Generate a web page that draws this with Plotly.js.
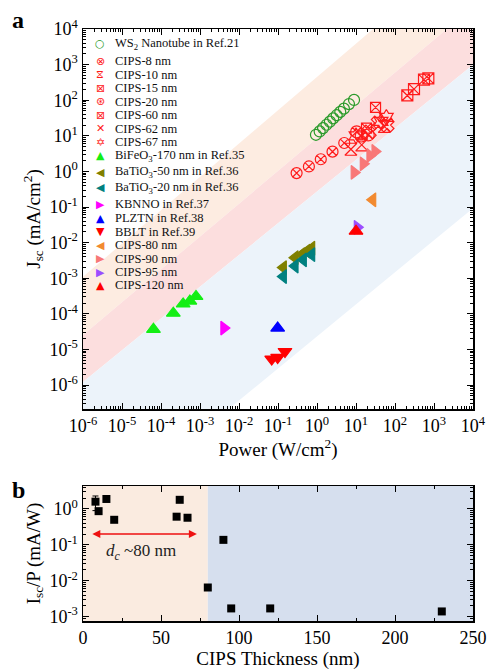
<!DOCTYPE html>
<html>
<head>
<meta charset="utf-8">
<script src="https://cdn.plot.ly/plotly-3.0.1.min.js"></script>
<style>html,body{margin:0;padding:0;background:#fff;}#chart{width:489px;height:671px;}</style>
</head>
<body>
<div id="chart"></div>
<script>
// ---------- Panel a data: power (W/cm^2) vs Jsc (mA/cm^2) ----------
const ws2Power   = [0.94, 1.17, 1.43, 1.75, 2.14, 2.6, 3.2, 3.95, 4.9, 6.6, 8.9];
const ws2Jsc     = [10.7, 13.3, 16.5, 20.5, 25, 31, 38, 47, 58, 78, 102];
const cips8Power = [0.30, 0.62, 1.25, 2.5, 5.0];
const cips8Jsc   = [0.90, 1.38, 2.2, 3.6, 6.3];
const cips10Power = [7.4, 14, 53];
const cips10Jsc   = [4.2, 5.6, 18.4];
const cips15Power = [207, 307, 554, 715];
const cips15Jsc   = [136, 206, 377, 410];
const cips20Power = [10.4, 13.6, 20.6];
const cips20Jsc   = [13, 9.9, 10.6];
const cips60Power = [31.7, 18.6];
const cips60Jsc   = [63, 16.5];
const cips62Power = [37, 63, 22];
const cips62Jsc   = [23, 20, 13];
const cips67Power = [44, 60, 10];
const cips67Jsc   = [25.5, 33, 10];
const bfoPower = [6.4e-5, 2.07e-4, 3.7e-4, 5.5e-4, 7.9e-4];
const bfoJsc   = [3.7e-5, 1.05e-4, 1.9e-4, 2.3e-4, 3.1e-4];
const bto50Power = [0.137, 0.273, 0.40, 0.55, 0.73];
const bto50Jsc   = [2.0e-3, 3.8e-3, 4.6e-3, 5.8e-3, 7.0e-3];
const bto20Power = [0.137, 0.273, 0.446, 0.73];
const bto20Jsc   = [1.12e-3, 2.2e-3, 3.3e-3, 4.6e-3];
const kbnnoPower = [4.1e-3];
const kbnnoJsc   = [4.0e-5];
const plztnPower = [0.098];
const plztnJsc   = [4.0e-5];
const bbltPower = [0.069, 0.098, 0.151];
const bbltJsc   = [5.4e-6, 6.0e-6, 8.8e-6];
const cips80Power = [26.8];
const cips80Jsc   = [0.16];
const cips90Power = [9.0, 15.4, 22.8, 30.7];
const cips90Jsc   = [0.94, 1.64, 2.8, 3.65];
const cips95Power = [10.8];
const cips95Jsc   = [0.027];
const cips120Power = [10];
const cips120Jsc   = [0.021];

// band boundary lines (log10 P, log10 J endpoints)
const bandLogP = [-7, 5];
const orangeTop = [-3.895, 7.33];
const pinkTop   = [-5.51, 5.54];
const blueTop   = [-6.80, 3.89];
const blueBot   = [-10.93, -0.13];

// ---------- Panel b data ----------
const thickness = [8, 10, 15, 20, 60, 62, 67, 80, 90, 95, 120, 230];
const iscOverP  = [1.6, 0.87, 1.9, 0.5, 0.61, 1.8, 0.57, 0.0065, 0.138, 0.0017, 0.0017, 0.0014];
const errPlus   = [0.7, 0, 0, 0, 0, 0, 0, 0, 0, 0, 0, 0];
const errMinus  = [0.7, 0, 0, 0, 0, 0, 0, 0, 0, 0, 0, 0];

const decTicks = [-6,-5,-4,-3,-2,-1,0,1,2,3,4];
const FONT = 'Liberation Serif, Times New Roman, serif';

function pw(v){ return Math.pow(10, v); }
function band(top, bot, color){
  return {
    x: [pw(bandLogP[0]), pw(bandLogP[1]), pw(bandLogP[1]), pw(bandLogP[0])],
    y: [pw(top[0]), pw(top[1]), pw(bot[1]), pw(bot[0])],
    mode: 'lines', fill: 'toself', fillcolor: color, line: {width: 0, color: color},
    hoverinfo: 'skip', showlegend: false, xaxis: 'x', yaxis: 'y'
  };
}

const series = [
  {name: 'WS<sub>2</sub> Nanotube in Ref.21', x: ws2Power, y: ws2Jsc, symbol: 'circle-open', color: '#2a9a2a', size: 11, glyph: '○'},
  {name: 'CIPS-8 nm', x: cips8Power, y: cips8Jsc, symbol: 'circle-x-open', color: '#ff1a1a', size: 11, glyph: '⊗'},
  {name: 'CIPS-10 nm', x: cips10Power, y: cips10Jsc, symbol: 'hourglass-open', color: '#ff1a1a', size: 12, glyph: '⧖'},
  {name: 'CIPS-15 nm', x: cips15Power, y: cips15Jsc, symbol: 'square-x-open', color: '#ff1a1a', size: 11, glyph: '⊠'},
  {name: 'CIPS-20 nm', x: cips20Power, y: cips20Jsc, symbol: 'circle-x-open', color: '#ff1a1a', size: 12, glyph: '⊛'},
  {name: 'CIPS-60 nm', x: cips60Power, y: cips60Jsc, symbol: 'square-x-open', color: '#ff1a1a', size: 10, glyph: '⊠'},
  {name: 'CIPS-62 nm', x: cips62Power, y: cips62Jsc, symbol: 'x-open', color: '#ff1a1a', size: 12, glyph: '✕'},
  {name: 'CIPS-67 nm', x: cips67Power, y: cips67Jsc, symbol: 'hexagram-open', color: '#ff1a1a', size: 12, glyph: '✡'},
  {name: 'BiFeO<sub>3</sub>-170 nm in Ref.35', x: bfoPower, y: bfoJsc, symbol: 'triangle-up', color: '#14ee14', size: 12, glyph: '▲'},
  {name: 'BaTiO<sub>3</sub>-50 nm in Ref.36', x: bto50Power, y: bto50Jsc, symbol: 'triangle-left', color: '#808000', size: 12, glyph: '◀'},
  {name: 'BaTiO<sub>3</sub>-20 nm in Ref.36', x: bto20Power, y: bto20Jsc, symbol: 'triangle-left', color: '#008080', size: 12, glyph: '◀'},
  {name: 'KBNNO in Ref.37', x: kbnnoPower, y: kbnnoJsc, symbol: 'triangle-right', color: '#ff00ff', size: 12, glyph: '▶'},
  {name: 'PLZTN in Ref.38', x: plztnPower, y: plztnJsc, symbol: 'triangle-up', color: '#0000ff', size: 12, glyph: '▲'},
  {name: 'BBLT in Ref.39', x: bbltPower, y: bbltJsc, symbol: 'triangle-down', color: '#ff0000', size: 12, glyph: '▼'},
  {name: 'CIPS-80 nm', x: cips80Power, y: cips80Jsc, symbol: 'triangle-left', color: '#f28a30', size: 12, glyph: '◀'},
  {name: 'CIPS-90 nm', x: cips90Power, y: cips90Jsc, symbol: 'triangle-right', color: '#f87878', size: 12, glyph: '▶'},
  {name: 'CIPS-95 nm', x: cips95Power, y: cips95Jsc, symbol: 'triangle-right', color: '#9b4dff', size: 12, glyph: '▶'},
  {name: 'CIPS-120 nm', x: cips120Power, y: cips120Jsc, symbol: 'triangle-up', color: '#ff0000', size: 12, glyph: '▲'}
];
// legend row centres, in pixels from top of page
const legendRowPx = [44, 61, 74.5, 88, 101.5, 115, 128.5, 142, 155.5, 172, 187.5, 204, 218, 231.5, 245, 258.5, 272, 285];

const traces = [
  band(orangeTop, pinkTop, 'rgb(253,236,225)'),
  band(pinkTop, blueTop, 'rgb(252,222,222)'),
  band(blueTop, blueBot, 'rgb(236,243,250)')
];
series.forEach(s => {
  traces.push({
    x: s.x, y: s.y, mode: 'markers', name: s.name, showlegend: false,
    marker: {symbol: s.symbol, size: s.size, color: s.color, line: {color: s.color, width: 1.2}},
    xaxis: 'x', yaxis: 'y'
  });
});
traces.push({
  x: thickness, y: iscOverP, mode: 'markers', showlegend: false,
  marker: {symbol: 'square', size: 8, color: 'black'},
  error_y: {type: 'data', symmetric: false, array: errPlus, arrayminus: errMinus, color: 'black', thickness: 1, width: 3},
  xaxis: 'x2', yaxis: 'y2'
});

const H = 671, T = 29, B = 50;
const plotH = H - T - B;
function py(p){ return (H - B - p) / plotH; }
function px(p){ return (p - 83) / 390; }

const annotations = [];
series.forEach((s, i) => {
  annotations.push({xref: 'paper', yref: 'paper', x: px(100), y: py(legendRowPx[i]), xanchor: 'center', yanchor: 'middle',
    text: s.glyph, showarrow: false, font: {family: 'DejaVu Sans', size: 11, color: s.color}});
  annotations.push({xref: 'paper', yref: 'paper', x: px(113), y: py(legendRowPx[i]), xanchor: 'left', yanchor: 'middle',
    text: s.name, showarrow: false, font: {family: FONT, size: 12.5, color: '#111'}});
});
annotations.push({xref: 'paper', yref: 'paper', x: px(18), y: py(20), xanchor: 'center', yanchor: 'middle',
  text: '<b>a</b>', showarrow: false, font: {family: FONT, size: 24, color: 'black'}});
annotations.push({xref: 'paper', yref: 'paper', x: px(18), y: py(490), xanchor: 'center', yanchor: 'middle',
  text: '<b>b</b>', showarrow: false, font: {family: FONT, size: 24, color: 'black'}});
annotations.push({xref: 'x2', yref: 'y2', x: 73, y: Math.log10(0.2), axref: 'x2', ayref: 'y2', ax: 5, ay: Math.log10(0.2),
  text: '', showarrow: true, arrowhead: 2, startarrowhead: 2, arrowside: 'end+start', arrowsize: 1, startarrowsize: 1,
  arrowwidth: 1.6, arrowcolor: '#ee1111'});
annotations.push({xref: 'x2', yref: 'y2', x: 37, y: Math.log10(0.065), text: '<i>d</i><sub><i>c</i></sub> ~80 nm',
  showarrow: false, font: {family: FONT, size: 17, color: '#222'}});

function logAxis(range, title, domain, anchor, tickList){
  return {
    type: 'log', range: range, domain: domain, anchor: anchor,
    tickmode: 'array', tickvals: tickList.map(pw),
    ticktext: tickList.map(v => '10<sup>' + v + '</sup>'),
    ticks: 'inside', ticklen: 6, tickwidth: 1, tickcolor: 'black',
    minor: {ticks: 'inside', ticklen: 3, dtick: 'D1', tickcolor: 'black', tickwidth: 1},
    showline: true, linecolor: 'black', linewidth: 1.5, mirror: 'ticks',
    showgrid: false, zeroline: false,
    tickfont: {family: FONT, size: 18, color: 'black'},
    title: {text: title, font: {family: FONT, size: 19, color: 'black'}, standoff: 4}
  };
}

const layout = {
  width: 489, height: 671,
  margin: {l: 83, r: 16, t: T, b: B},
  paper_bgcolor: 'white', plot_bgcolor: 'white',
  showlegend: false,
  xaxis: logAxis([-6, 4], 'Power (W/cm<sup>2</sup>)', [0, 1], 'y', decTicks),
  yaxis: logAxis([-6.67, 4], 'J<sub>sc</sub> (mA/cm<sup>2</sup>)', [py(409), 1], 'x', decTicks),
  xaxis2: {
    range: [0, 250], domain: [0, 1], anchor: 'y2', dtick: 50,
    ticks: 'inside', ticklen: 6, tickcolor: 'black',
    minor: {ticks: 'inside', ticklen: 3, dtick: 25, tickcolor: 'black'},
    showline: true, linecolor: 'black', linewidth: 1.5, mirror: 'ticks', showgrid: false, zeroline: false,
    tickfont: {family: FONT, size: 18, color: 'black'},
    title: {text: 'CIPS Thickness (nm)', font: {family: FONT, size: 19, color: 'black'}, standoff: 4}
  },
  yaxis2: logAxis([-3.12, 0.64], 'I<sub>sc</sub>/P (mA/W)', [0, py(486)], 'x2', [-3, -2, -1, 0]),
  shapes: [
    {type: 'rect', xref: 'x2', yref: 'y2 domain', x0: 0, x1: 80, y0: 0, y1: 1, fillcolor: 'rgb(250,235,224)', line: {width: 0}, layer: 'below'},
    {type: 'rect', xref: 'x2', yref: 'y2 domain', x0: 80, x1: 250, y0: 0, y1: 1, fillcolor: 'rgb(214,223,238)', line: {width: 0}, layer: 'below'}
  ],
  annotations: annotations
};

Plotly.newPlot('chart', traces, layout, {displayModeBar: false, staticPlot: true});
</script>
</body>
</html>
